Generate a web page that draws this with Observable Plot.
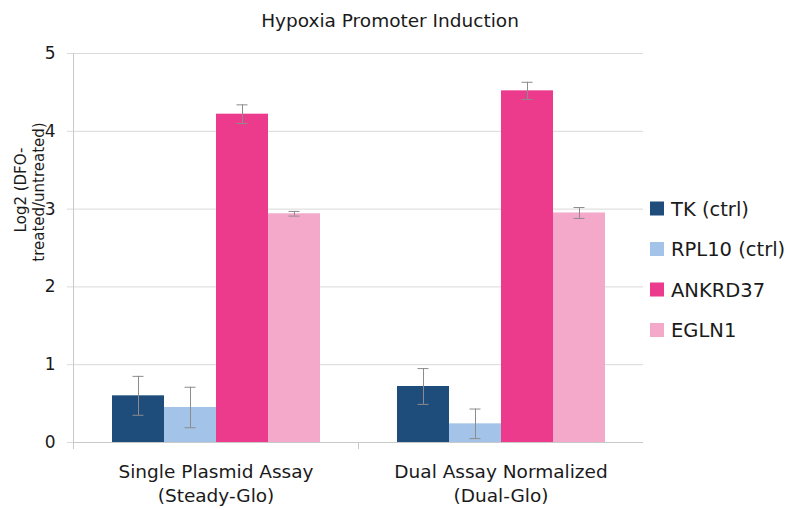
<!DOCTYPE html>
<html>
<head>
<meta charset="utf-8">
<script src="https://cdn.jsdelivr.net/npm/d3@7"></script>
<script src="https://cdn.jsdelivr.net/npm/@observablehq/plot@0.6"></script>
<style>
  html, body { margin: 0; padding: 0; background: #fff; }
  #chart { width: 786px; height: 510px; }
</style>
</head>
<body>
<div id="chart"></div>
<script>
// ---- data ----
const title = "Hypoxia Promoter Induction";
const yLabelLines = ["Log2 (DFO-", "treated/untreated)"];
const categories = ["Single Plasmid Assay\n(Steady-Glo)", "Dual Assay Normalized\n(Dual-Glo)"];
const series = ["TK (ctrl)", "RPL10 (ctrl)", "ANKRD37", "EGLN1"];
const colors = ["#1f4d7b", "#a4c3e8", "#ec3a8d", "#f4a9ca"];
const singleValues = [0.60, 0.45, 4.22, 2.94];
const singleErrors = [0.25, 0.26, 0.12, 0.03];
const dualValues = [0.72, 0.24, 4.52, 2.95];
const dualErrors = [0.23, 0.19, 0.11, 0.07];
const yTicks = [0, 1, 2, 3, 4, 5];

const valuesByCategory = [singleValues, dualValues];
const errorsByCategory = [singleErrors, dualErrors];
const rows = [];
categories.forEach((c, i) => {
  series.forEach((s, j) => {
    const v = valuesByCategory[i][j], e = errorsByCategory[i][j];
    rows.push({category: c, series: s, value: v, lo: v - e, hi: v + e});
  });
});

const FONT = "DejaVu Sans, Liberation Sans, Arial, sans-serif";
const gridColor = "#d9d9d9";
const errColor = "#8c8c8c";

const chart = Plot.plot({
  width: 786,
  height: 510,
  marginLeft: 73,
  marginRight: 143,
  marginTop: 53,
  marginBottom: 68,
  style: {fontFamily: FONT, color: "#1a1a1a", background: "#fff"},
  fx: {domain: categories, paddingInner: 0, paddingOuter: 0, label: null},
  x: {domain: series, paddingInner: 0, paddingOuter: 0.74, axis: null},
  y: {domain: [0, 5], label: null},
  color: {domain: series, range: colors},
  marks: [
    Plot.ruleY(yTicks.filter(d => d > 0), {stroke: gridColor, strokeOpacity: 1}),
    Plot.axisY({ticks: yTicks, tickFormat: d => String(d), tickSize: 6, tickPadding: 12,
                stroke: gridColor, strokeOpacity: 1, fill: "#1a1a1a", fontSize: 17, label: null}),
    Plot.axisFx({anchor: "bottom", tickSize: 0, tickPadding: 19, fontSize: 18.5,
                 lineHeight: 1.27, fill: "#1a1a1a", label: null}),
    Plot.barY(rows, {fx: "category", x: "series", y: "value", fill: "series"}),
    Plot.ruleX(rows, {fx: "category", x: "series", y1: "lo", y2: "hi", stroke: errColor, strokeWidth: 1}),
    Plot.tickY(rows, {fx: "category", x: "series", y: "hi", stroke: errColor, insetLeft: 20.5, insetRight: 20.5}),
    Plot.tickY(rows, {fx: "category", x: "series", y: "lo", stroke: errColor, insetLeft: 20.5, insetRight: 20.5}),
    Plot.ruleY([0], {stroke: "#c8c8c8"}),
    Plot.frame({anchor: "left", facetAnchor: "left", stroke: "#c8c8c8", insetBottom: -6}),
    Plot.frame({anchor: "right", facetAnchor: "left", stroke: "#c8c8c8", insetTop: 389, insetBottom: -6})
  ]
});

document.getElementById("chart").appendChild(chart);

// ---- title, y label and legend added into the same SVG ----
const svg = d3.select(chart);

svg.append("text")
  .attr("x", 390).attr("y", 27)
  .attr("text-anchor", "middle")
  .attr("font-family", FONT).attr("font-size", 18.5)
  .attr("fill", "#1a1a1a")
  .text(title);

const yLabelPos = [{x: 26, y: 190}, {x: 44, y: 192}];
yLabelLines.forEach((line, i) => {
  svg.append("text")
    .attr("transform", `translate(${yLabelPos[i].x},${yLabelPos[i].y}) rotate(-90)`)
    .attr("text-anchor", "middle")
    .attr("font-family", FONT).attr("font-size", 15)
    .attr("fill", "#1a1a1a")
    .text(line);
});

const legend = svg.append("g").attr("transform", "translate(650,208.5)");
series.forEach((s, i) => {
  const g = legend.append("g").attr("transform", `translate(0,${i * 40.5})`);
  g.append("rect").attr("x", 0).attr("y", -7).attr("width", 14).attr("height", 14).attr("fill", colors[i]);
  g.append("text").attr("x", 21).attr("y", 7)
    .attr("text-anchor", "start")
    .attr("font-family", FONT).attr("font-size", 19.5)
    .attr("fill", "#1a1a1a")
    .text(s);
});
</script>
</body>
</html>
